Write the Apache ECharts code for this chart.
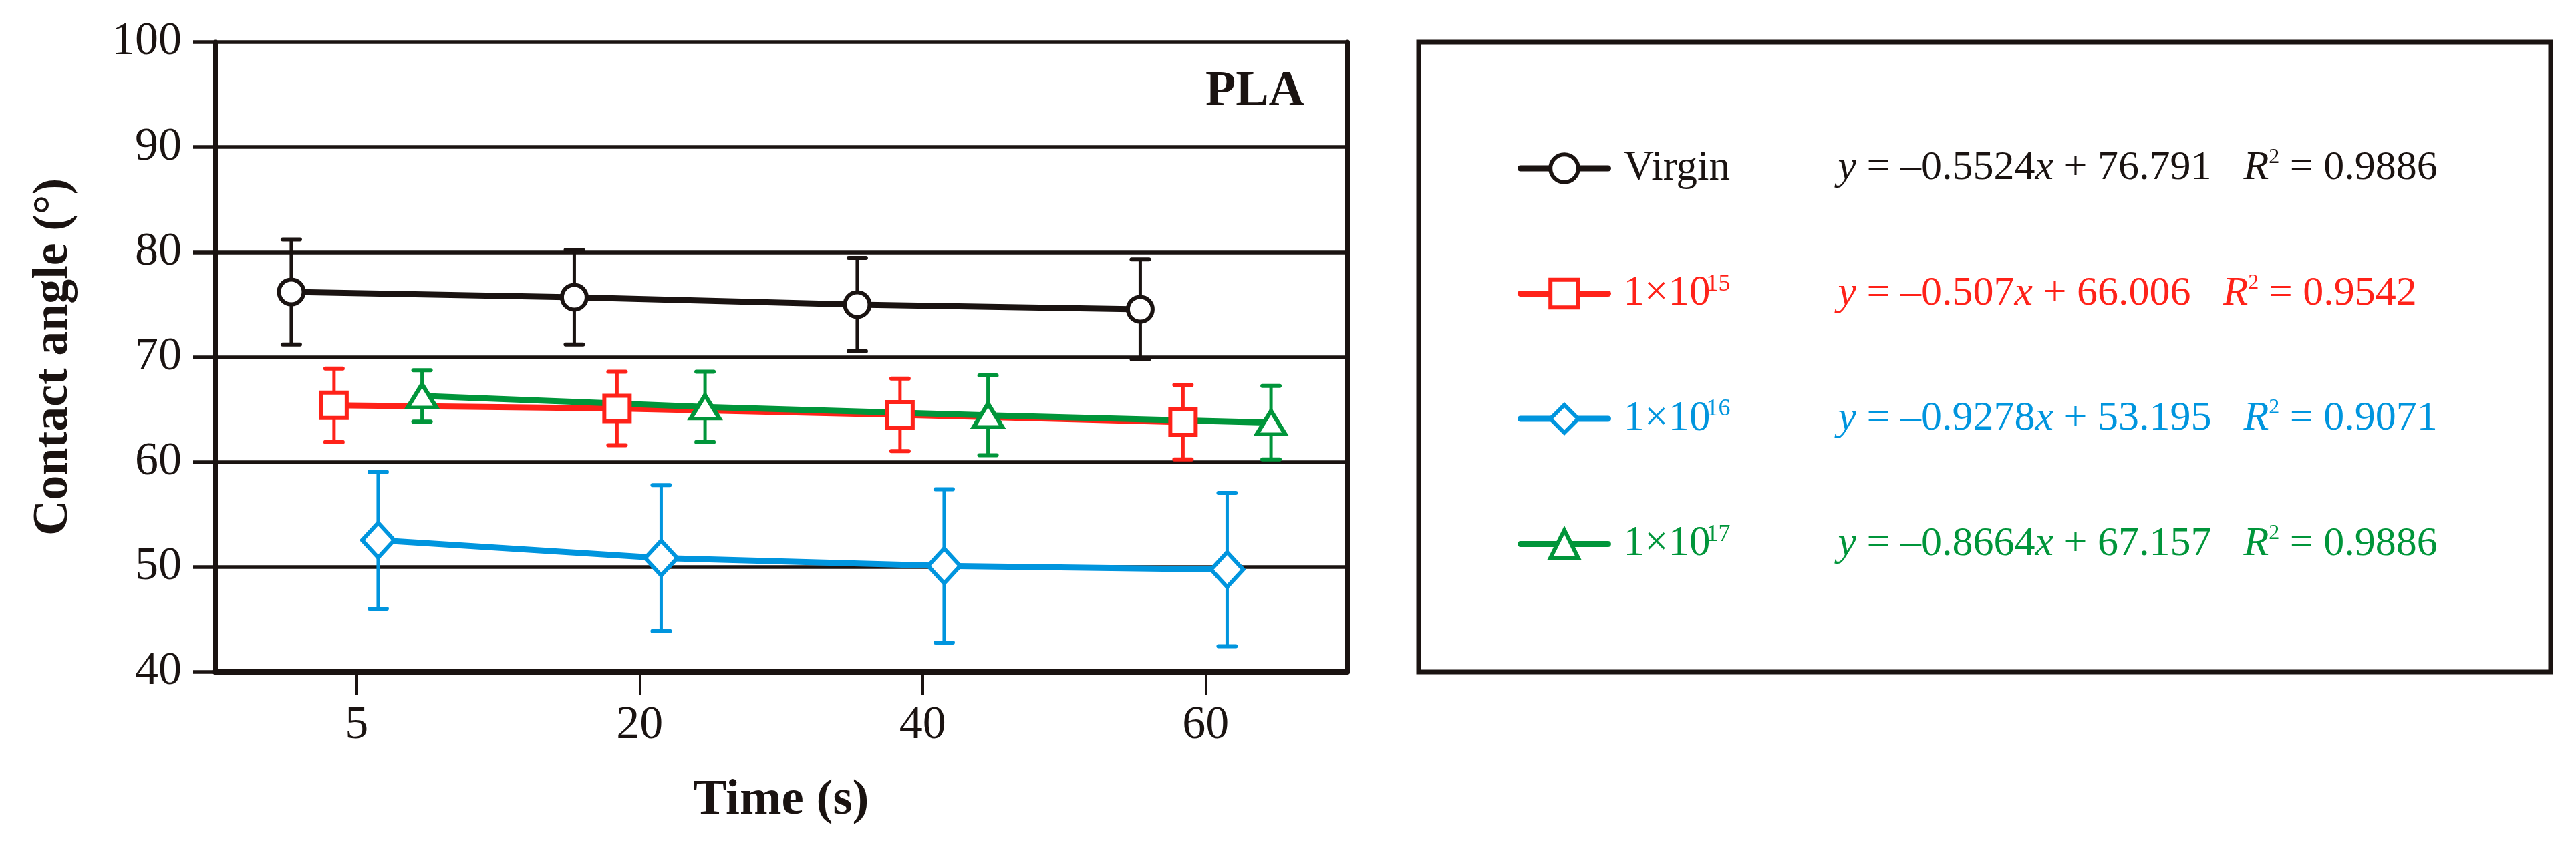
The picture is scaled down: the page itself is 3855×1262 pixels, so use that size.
<!DOCTYPE html>
<html>
<head>
<meta charset="utf-8">
<script src="https://cdn.jsdelivr.net/npm/echarts@6/dist/echarts.min.js"></script>
<style>
html,body{margin:0;padding:0;background:#fff;}
#chart{width:3855px;height:1262px;}
</style>
</head>
<body>
<div id="chart"></div>
<script>
// ---------- data ----------
const timeLabels = ['5', '20', '40', '60'];
const seriesNames = ['Virgin', '1×10^15', '1×10^16', '1×10^17'];
const nameBase = ['Virgin', '1×10', '1×10', '1×10'];
const nameSup = ['', '15', '16', '17'];

const virginMean = [76.2, 75.7, 75.0, 74.55];
const virginErr  = [5.0, 4.5, 4.45, 4.75];
const e15Mean = [65.4, 65.1, 64.5, 63.8];
const e15Err  = [3.5, 3.5, 3.45, 3.55];
const e16Mean = [52.55, 50.85, 50.1, 49.75];
const e16Err  = [6.5, 6.95, 7.3, 7.3];
const e17Mean = [66.3, 65.25, 64.45, 63.75];
const e17Err  = [2.45, 3.35, 3.8, 3.5];

const slopes = ['–0.5524', '–0.507', '–0.9278', '–0.8664'];
const intercepts = ['76.791', '66.006', '53.195', '67.157'];
const r2Values = ['0.9886', '0.9542', '0.9071', '0.9886'];

const yTicks = {min: 40, max: 100, interval: 10};

// ---------- styles ----------
const INK = '#1a1311';
const colors = [INK, '#ff2219', '#0095de', '#00953a'];
const symbols = ['circle', 'rect', 'diamond', 'triangle'];
const symbolSizes = [37, 38, [48, 52], [43, 35]];
const xOffsets = [-0.231, -0.080, 0.076, 0.231]; // horizontal dodge within each category
const FONT = '"Liberation Serif", "Times New Roman", serif';

const means = [virginMean, e15Mean, e16Mean, e17Mean];
const errs = [virginErr, e15Err, e16Err, e17Err];

const lineSeries = seriesNames.map((nm, s) => ({
  name: nm,
  type: 'line',
  xAxisIndex: 1,
  yAxisIndex: 0,
  z: 4,
  symbol: symbols[s],
  symbolSize: symbolSizes[s],
  showSymbol: true,
  lineStyle: {color: colors[s], width: 9},
  itemStyle: {color: '#fff', borderColor: colors[s], borderWidth: 6},
  data: means[s].map((v, i) => [i + xOffsets[s], v]),
  animation: false
}));

const errorSeries = seriesNames.map((nm, s) => ({
  name: nm + ' err',
  type: 'custom',
  xAxisIndex: 1,
  yAxisIndex: 0,
  z: 3,
  data: means[s].map((v, i) => [i + xOffsets[s], v, errs[s][i]]),
  renderItem: function (params, api) {
    const x = api.value(0), y = api.value(1), e = api.value(2);
    const top = api.coord([x, y + e]);
    const bot = api.coord([x, y - e]);
    const hw = 13;
    const c = colors[s];
    return {
      type: 'group',
      children: [
        {type: 'line', shape: {x1: top[0], y1: top[1], x2: bot[0], y2: bot[1]}, style: {stroke: c, lineWidth: 5}},
        {type: 'line', shape: {x1: top[0] - hw, y1: top[1], x2: top[0] + hw, y2: top[1]}, style: {stroke: c, lineWidth: 6, lineCap: 'round'}},
        {type: 'line', shape: {x1: bot[0] - hw, y1: bot[1], x2: bot[0] + hw, y2: bot[1]}, style: {stroke: c, lineWidth: 6, lineCap: 'round'}}
      ]
    };
  },
  animation: false
}));

const chart = echarts.init(document.getElementById('chart'), null, {renderer: 'canvas'});

const rich = {
  g: {width: 18, fontSize: 63, fontFamily: FONT, lineHeight: 64},
  n: {width: 321, fontSize: 63, fontFamily: FONT, lineHeight: 64},
  b: {width: 124, fontSize: 63, fontFamily: FONT, lineHeight: 64},
  ns: {width: 197, fontSize: 36, fontFamily: FONT, verticalAlign: 'top', lineHeight: 32},
  e: {fontSize: 62, fontFamily: FONT, lineHeight: 64},
  i: {fontSize: 62, fontFamily: FONT, fontStyle: 'italic', lineHeight: 64},
  r: {fontSize: 62, fontFamily: FONT, fontStyle: 'italic', lineHeight: 64, padding: [0, 0, 0, 48]},
  s: {fontSize: 32, fontFamily: FONT, verticalAlign: 'top', lineHeight: 30}
};

const option = {
  backgroundColor: '#fff',
  animation: false,
  title: {
    text: 'PLA',
    right: 3855 - 1952,
    top: 101,
    padding: 0,
    textStyle: {fontFamily: FONT, fontSize: 74, fontWeight: 'bold', color: INK}
  },
  grid: {left: 322, top: 63, width: 1694, height: 943, containLabel: false},
  xAxis: [
    {
      type: 'category',
      data: timeLabels,
      boundaryGap: true,
      position: 'bottom',
      name: 'Time (s)',
      nameLocation: 'middle',
      nameGap: 155,
      nameTextStyle: {fontFamily: FONT, fontSize: 75, fontWeight: 'bold', color: INK},
      axisLine: {show: true, onZero: false, lineStyle: {color: INK, width: 8}},
      axisTick: {show: true, alignWithLabel: true, inside: false, length: 34, lineStyle: {color: INK, width: 4}},
      axisLabel: {margin: 46, fontFamily: FONT, fontSize: 70, color: INK},
      splitLine: {show: false}
    },
    {
      type: 'value',
      min: -0.5,
      max: 3.5,
      show: false,
      position: 'bottom',
      axisLine: {onZero: false}
    }
  ],
  yAxis: [
    {
      type: 'value',
      min: yTicks.min,
      max: yTicks.max,
      interval: yTicks.interval,
      position: 'left',
      name: 'Contact angle (°)',
      nameLocation: 'middle',
      nameRotate: 90,
      nameGap: 204,
      nameTextStyle: {fontFamily: FONT, fontSize: 74, fontWeight: 'bold', color: INK},
      axisLine: {show: true, onZero: false, lineStyle: {color: INK, width: 7}},
      axisTick: {show: true, inside: false, length: 33, lineStyle: {color: INK, width: 5.5}},
      axisLabel: {margin: 50, fontFamily: FONT, fontSize: 70, color: INK},
      splitLine: {show: true, lineStyle: {color: INK, width: 5.5}}
    },
    {
      type: 'value',
      min: yTicks.min,
      max: yTicks.max,
      interval: yTicks.interval,
      position: 'right',
      axisLine: {show: true, onZero: false, lineStyle: {color: INK, width: 7}},
      axisTick: {show: false},
      axisLabel: {show: false},
      splitLine: {show: false}
    }
  ],
  legend: {
    orient: 'vertical',
    left: 2271,
    top: 220,
    padding: 0,
    itemWidth: 131,
    itemHeight: 52,
    itemGap: 124,
    selectedMode: false,
    data: seriesNames.map((nm, s) => ({
      name: nm,
      itemStyle: {color: '#fff', borderColor: colors[s], borderWidth: 6},
      lineStyle: {color: colors[s], width: 9, cap: 'round'},
      textStyle: {color: colors[s]}
    })),
    textStyle: {fontFamily: FONT, fontSize: 63, rich: rich},
    formatter: function (name) {
      const s = seriesNames.indexOf(name);
      const label = nameSup[s]
        ? '{g| }{b|' + nameBase[s] + '}{ns|' + nameSup[s] + '}'
        : '{g| }{n|' + nameBase[s] + '}';
      const eq = '{i|y}{e| = ' + slopes[s] + '}{i|x}{e| + ' + intercepts[s] + '}{r|R}{s|2}{e| = ' + r2Values[s] + '}';
      return label + eq;
    }
  },
  graphic: [
    {
      type: 'rect',
      shape: {x: 2123, y: 63, width: 1694, height: 943},
      style: {fill: 'none', stroke: INK, lineWidth: 7},
      silent: true,
      z: 1
    }
  ],
  series: errorSeries.concat(lineSeries)
};

chart.setOption(option);
</script>
</body>
</html>
